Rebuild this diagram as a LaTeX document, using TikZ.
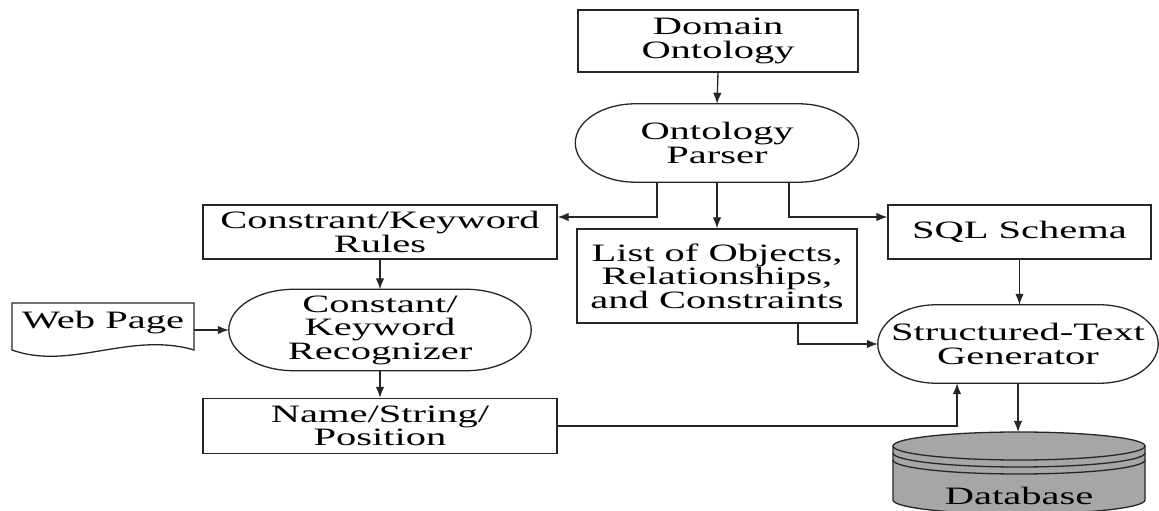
\documentclass[tikz,border=0pt]{standalone}
\usepackage{fontspec}
\setmainfont[FakeStretch=1.62]{Liberation Serif}
\usetikzlibrary{arrows.meta,calc}

% outline of an oval process node: flat top and bottom, elliptical ends
\newcommand\ovaloutline[2]{%
  \draw[ln] let \p1=(#1.north west), \p2=(#1.south east), \n1={(\y1-\y2)/2} in
    (\x1+#2pt,\y1) -- (\x2-#2pt,\y1)
    arc[start angle=90,end angle=-90,x radius=#2pt,y radius=\n1]
    -- (\x1+#2pt,\y2)
    arc[start angle=270,end angle=90,x radius=#2pt,y radius=\n1] -- cycle;}

\begin{document}
\begin{tikzpicture}[x=1pt,y=1pt,
  font=\fontsize{25}{23.5}\selectfont,
  ln/.style={draw=black!85, line width=1.3pt},
  box/.style={ln, align=center, inner sep=0pt},
  oval/.style={align=center, inner sep=0pt},
  arr/.style={ln, -{Latex[length=11pt,width=8.5pt]}},
]
\useasboundingbox (0,0) rectangle (1159,511);
\clip (0,0) rectangle (1159,511);

% boxes
\node[box, minimum width=280, minimum height=62] (dom)   at (718,470)   {Domain\\Ontology};
\node[oval, minimum width=283, minimum height=78] (parser) at (717,368) {Ontology\\Parser};
\node[box, minimum width=354, minimum height=54] (rules) at (380,279)   {Constrant/Keyword\\Rules};
\node[box, minimum width=280, minimum height=94] (list)  at (717,235)   {List of Objects,\\Relationships,\\and Constraints};
\node[box, minimum width=263, minimum height=54] (sql)   at (1019.5,279) {SQL Schema};
\node[oval, minimum width=280, minimum height=78] (gen)  at (1018,167)  {Structured-Text\\Generator};
\node[oval, minimum width=302, minimum height=81] (recog) at (380,181)  {Constant/\\Keyword\\Recognizer};
\node[box, minimum width=354, minimum height=55] (name)  at (380,85)    {Name/String/\\Position};
\node[inner sep=0pt] (web) at (103,188) {Web Page};
\node[inner sep=0pt] (db) at (1019,15) {};

\ovaloutline{parser}{60}
\ovaloutline{gen}{58}
\ovaloutline{recog}{65}

% web page document shape
\draw[ln] (12,208) -- (194,208) -- (194,161)
  .. controls (130,180) and (70,140) .. (12,161) -- cycle;

% database cylinder
\fill[gray!70] (893,65) -- (893,11) arc[start angle=180,end angle=360,x radius=126,y radius=14]
  -- (1145,65) arc[start angle=0,end angle=180,x radius=126,y radius=14] -- cycle;
\draw[ln] (1019,65) ellipse[x radius=126,y radius=14];
\draw[ln] (893,65) -- (893,11) arc[start angle=180,end angle=360,x radius=126,y radius=14] -- (1145,65);
\draw[ln] (893,58) arc[start angle=180,end angle=360,x radius=126,y radius=14];
\draw[ln] (893,51) arc[start angle=180,end angle=360,x radius=126,y radius=14];
\node[inner sep=0pt] at (db) {Database};
\coordinate (dbtop) at (1019,79);

% connectors
\coordinate (pl) at ($(parser.south)+(-60,0)$);
\coordinate (pr) at ($(parser.south)+(72,0)$);
\coordinate (lo) at ($(list.south)+(81,0)$);
\coordinate (ng) at ($(gen.south)+(-61,0)$);

\draw[arr] (dom.south) -- (parser.north);
\draw[arr] (pl) |- ([yshift=15pt]rules.east);
\draw[arr] (parser.south) -- (list.north);
\draw[arr] (pr) |- ([yshift=15pt]sql.west);
\draw[arr] (sql.south) -- (sql.south |- gen.north);
\draw[arr] (lo) |- (gen.west);
\draw[arr] (194,181) -- (recog.west);
\draw[arr] (rules.south) -- (recog.north);
\draw[arr] (recog.south) -- (name.north);
\draw[arr] (name.east) -| (ng);
\draw[arr] (gen.south) -- (gen.south |- dbtop);
\end{tikzpicture}
\end{document}
